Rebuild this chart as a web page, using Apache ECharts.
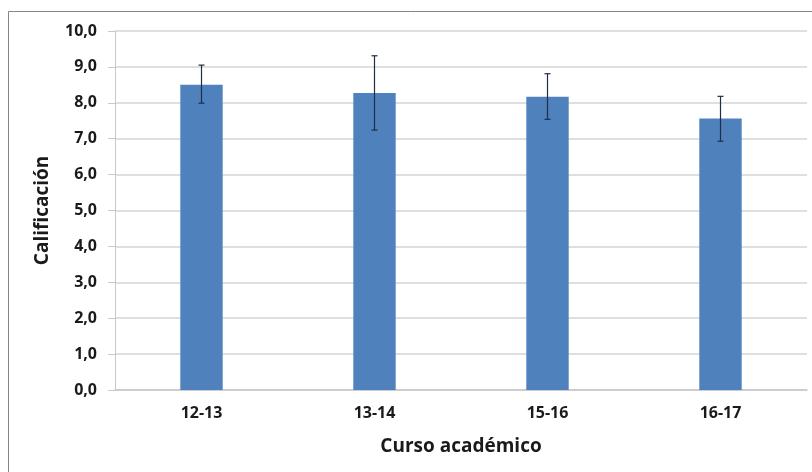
<!DOCTYPE html>
<html><head><meta charset="utf-8">
<script src="https://cdn.jsdelivr.net/npm/echarts@6/dist/echarts.min.js"></script>
<style>html,body{margin:0;padding:0;background:#fff}#c{width:812px;height:472px}</style>
</head><body><div id="c"></div>
<script>
const categories = ['12-13', '13-14', '15-16', '16-17'];
const means = [8.50, 8.27, 8.17, 7.56];
const errLow = [7.99, 7.24, 7.54, 6.93];
const errHigh = [9.05, 9.31, 8.81, 8.18];
const yTicks = [0, 1, 2, 3, 4, 5, 6, 7, 8, 9, 10];

const chart = echarts.init(document.getElementById('c'));
const font = '"Open Sans", Lato, sans-serif';
chart.setOption({
  animation: false,
  graphic: [{
    type: 'rect', shape: {x: 8.5, y: 11.5, width: 820, height: 480},
    style: {fill: 'none', stroke: '#868686', lineWidth: 1}, silent: true
  }],
  grid: {left: 115, right: 5, top: 31, bottom: 82},
  xAxis: {
    type: 'category', data: categories,
    name: 'Curso académico', nameLocation: 'middle', nameGap: 47,
    nameTextStyle: {fontFamily: font, fontWeight: 'bold', fontSize: 19, color: '#1a1a1a'},
    axisLine: {lineStyle: {color: '#c8c8c8', width: 1.5}},
    axisTick: {show: false},
    axisLabel: {fontFamily: font, fontWeight: 'bold', fontSize: 16, color: '#1a1a1a', margin: 15}
  },
  yAxis: {
    type: 'value', min: yTicks[0], max: yTicks[yTicks.length - 1], interval: 1,
    name: 'Calificación', nameLocation: 'middle', nameGap: 63, nameRotate: 90,
    nameTextStyle: {fontFamily: font, fontWeight: 'bold', fontSize: 19, color: '#1a1a1a'},
    axisLine: {show: true, lineStyle: {color: '#c8c8c8', width: 1}},
    axisTick: {show: true, inside: false, length: 7, lineStyle: {color: '#c8c8c8'}},
    splitLine: {lineStyle: {color: '#d4d4d4', width: 1.5}},
    axisLabel: {fontFamily: font, fontWeight: 'bold', fontSize: 16, color: '#1a1a1a', margin: 18,
      formatter: v => v.toFixed(1).replace('.', ',')}
  },
  series: [{
    type: 'bar', data: means, barWidth: '24.5%',
    itemStyle: {color: '#4f81bd'}
  }, {
    type: 'custom',
    data: categories.map((c, i) => [i, errLow[i], errHigh[i]]),
    renderItem: function (params, api) {
      const i = api.value(0);
      const lo = api.coord([i, api.value(1)]);
      const hi = api.coord([i, api.value(2)]);
      const hw = 3;
      const st = {stroke: '#1f2d45', lineWidth: 1.2};
      return {type: 'group', children: [
        {type: 'line', shape: {x1: lo[0], y1: lo[1], x2: hi[0], y2: hi[1]}, style: st},
        {type: 'line', shape: {x1: lo[0] - hw, y1: lo[1], x2: lo[0] + hw, y2: lo[1]}, style: st},
        {type: 'line', shape: {x1: hi[0] - hw, y1: hi[1], x2: hi[0] + hw, y2: hi[1]}, style: st}
      ]};
    },
    z: 10
  }]
});
</script></body></html>
